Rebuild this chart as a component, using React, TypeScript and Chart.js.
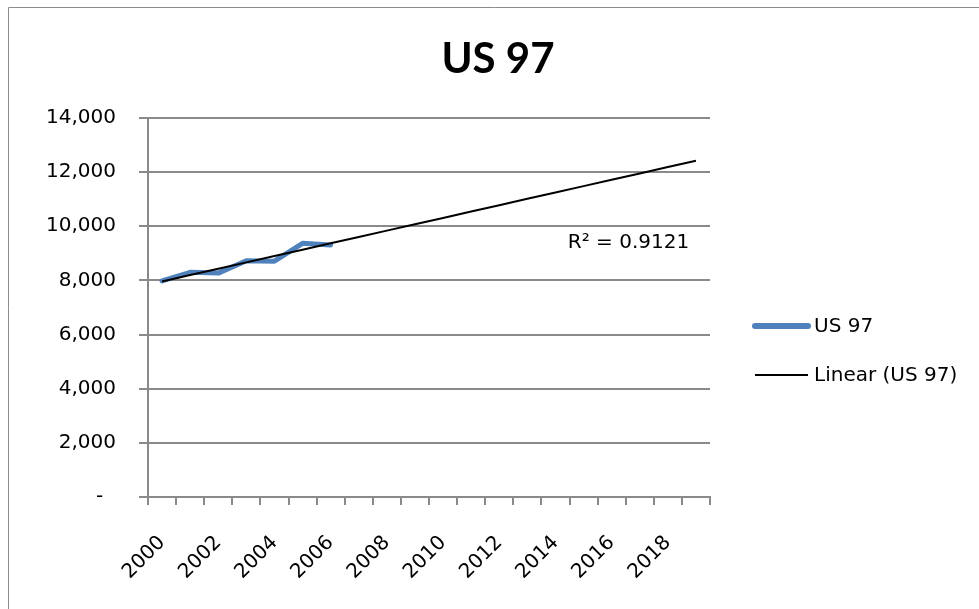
import React, { useEffect, useRef } from 'react';
import { Chart, registerables } from 'chart.js';

Chart.register(...registerables);

// ---- data ----
const years: string[] = [
  '2000', '2001', '2002', '2003', '2004', '2005', '2006', '2007', '2008', '2009',
  '2010', '2011', '2012', '2013', '2014', '2015', '2016', '2017', '2018', '2019',
];
const us97Values: number[] = [7980, 8300, 8270, 8730, 8710, 9370, 9310];
const yTickValues: number[] = [0, 2000, 4000, 6000, 8000, 10000, 12000, 14000];
const chartTitle = 'US 97';
const seriesLabel = 'US 97';
const trendLabel = 'Linear (US 97)';
const r2Text = 'R² = 0.9121';

// least-squares linear trend (as a spreadsheet "Linear" trendline does)
function linearTrend(values: number[], length: number): number[] {
  const n = values.length;
  let sx = 0, sy = 0, sxx = 0, sxy = 0;
  values.forEach((v, i) => { sx += i; sy += v; sxx += i * i; sxy += i * v; });
  const slope = (n * sxy - sx * sy) / (n * sxx - sx * sx);
  const intercept = (sy - slope * sx) / n;
  const out: number[] = [];
  for (let i = 0; i < length; i++) out.push(intercept + slope * i);
  return out;
}
const trendValues = linearTrend(us97Values, years.length);

const BLUE = '#4f81bd';
const GRID = '#8a8a8a';
const LABEL_FONT = '"DejaVu Sans", sans-serif';

const decorPlugin = {
  id: 'decor',
  beforeDraw(chart: any) {
    const { ctx, width, height } = chart;
    ctx.save();
    ctx.fillStyle = '#ffffff';
    ctx.fillRect(0, 0, width, height);
    ctx.strokeStyle = '#8c8c8c';
    ctx.lineWidth = 1;
    ctx.beginPath();
    ctx.moveTo(8.5, height + 5);
    ctx.lineTo(8.5, 7.5);
    ctx.lineTo(width + 5, 7.5);
    ctx.stroke();
    ctx.restore();
  },
  afterDraw(chart: any) {
    const { ctx } = chart;
    ctx.save();
    // title
    ctx.fillStyle = '#000000';
    ctx.font = 'bold 42px Lato, "Liberation Sans", sans-serif';
    ctx.textAlign = 'center';
    ctx.textBaseline = 'alphabetic';
    ctx.fillText(chartTitle, 498, 73);

    // R² label next to the trendline
    const xs = chart.scales.x;
    const ys = chart.scales.y;
    ctx.font = `20px ${LABEL_FONT}`;
    ctx.textAlign = 'center';
    ctx.textBaseline = 'middle';
    ctx.fillText(r2Text, xs.getPixelForValue(16.6), ys.getPixelForValue(9380));

    // legend
    const ds = chart.data.datasets;
    ctx.lineCap = 'round';
    ctx.strokeStyle = ds[0].borderColor;
    ctx.lineWidth = 6;
    ctx.beginPath();
    ctx.moveTo(755, 326);
    ctx.lineTo(808, 326);
    ctx.stroke();
    ctx.lineCap = 'butt';
    ctx.strokeStyle = ds[1].borderColor;
    ctx.lineWidth = 2;
    ctx.beginPath();
    ctx.moveTo(755, 375);
    ctx.lineTo(808, 375);
    ctx.stroke();
    ctx.textAlign = 'left';
    ctx.textBaseline = 'middle';
    ctx.fillStyle = '#000000';
    ctx.fillText(ds[0].label, 814, 327);
    ctx.fillText(ds[1].label, 814, 376);
    ctx.restore();
  },
};

export default function App() {
  const canvasRef = useRef<HTMLCanvasElement | null>(null);

  useEffect(() => {
    if (!canvasRef.current) return;
    const chart = new Chart(canvasRef.current, {
      type: 'line',
      data: {
        labels: years,
        datasets: [
          {
            label: seriesLabel,
            data: us97Values,
            borderColor: BLUE,
            borderWidth: 5,
            pointRadius: 0,
            tension: 0,
            borderJoinStyle: 'round',
            borderCapStyle: 'round',
            order: 1,
          },
          {
            label: trendLabel,
            data: trendValues,
            borderColor: '#000000',
            borderWidth: 2,
            pointRadius: 0,
            tension: 0,
            order: 0,
          },
        ],
      },
      options: {
        responsive: false,
        animation: false,
        events: [],
        layout: { padding: { top: 118, right: 269, bottom: 0, left: 0 } },
        plugins: {
          legend: { display: false },
          title: { display: false },
          tooltip: { enabled: false },
        },
        scales: {
          x: {
            type: 'category',
            offset: true,
            grid: {
              display: true,
              offset: true,
              drawOnChartArea: false,
              drawTicks: true,
              tickLength: 8,
              color: GRID,
              lineWidth: 2,
            },
            border: { display: true, color: GRID, width: 2 },
            ticks: {
              autoSkip: false,
              maxRotation: 45,
              minRotation: 45,
              padding: 26,
              color: '#000000',
              font: { family: LABEL_FONT, size: 20 },
              callback: (_v: any, i: number) => (i % 2 === 0 ? years[i] : ''),
            },
            afterFit: (scale: any) => { scale.height = 112; },
          },
          y: {
            min: 0,
            max: 14000,
            afterBuildTicks: (scale: any) => {
              scale.ticks = yTickValues.map((v) => ({ value: v }));
            },
            grid: {
              color: GRID,
              lineWidth: 2,
              drawTicks: true,
              tickLength: 9,
            },
            border: { display: true, color: GRID, width: 2 },
            ticks: {
              padding: 23,
              color: '#000000',
              font: { family: LABEL_FONT, size: 20 },
              callback: (v: any) => (Number(v) === 0 ? '-  ' : Number(v).toLocaleString('en-US')),
            },
            afterFit: (scale: any) => { scale.width = 148; },
          },
        },
      },
      plugins: [decorPlugin],
    } as any);
    return () => chart.destroy();
  }, []);

  return (
    <div style={{ position: 'fixed', left: 0, top: 0, width: 979, height: 609, background: '#fff' }}>
      <canvas ref={canvasRef} width={979} height={609} style={{ display: 'block', width: 979, height: 609 }} />
    </div>
  );
}
